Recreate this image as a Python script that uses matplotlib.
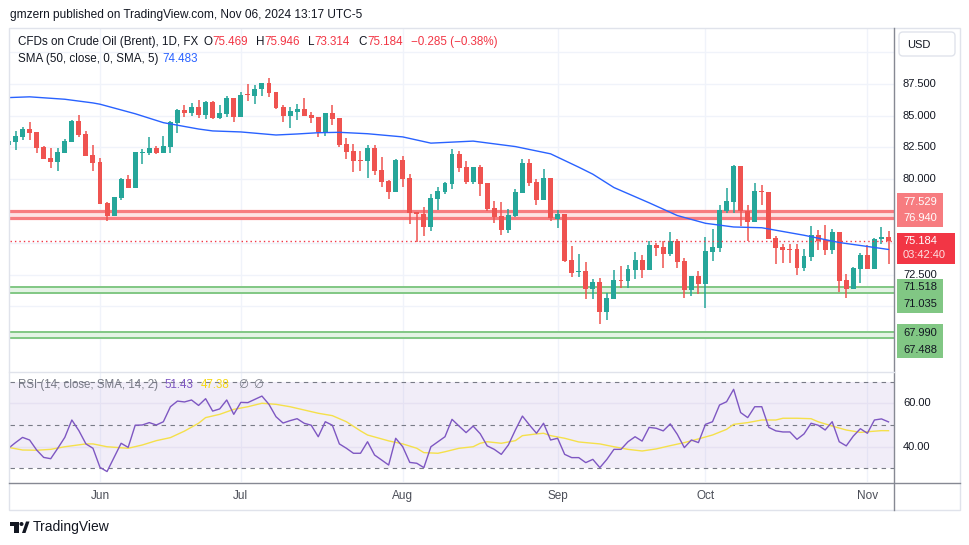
import numpy as np
import pandas as pd
import matplotlib
matplotlib.use("Agg")
import matplotlib.pyplot as plt
from matplotlib.patches import Rectangle, FancyBboxPatch, Polygon, Circle

plt.rcParams['font.family'] = ['Liberation Sans', 'DejaVu Sans']

# ---------------- data ----------------
dates = pd.bdate_range("2024-05-15", "2024-11-06")

opens = [82.70, 82.93, 83.35, 83.98, 83.72, 82.57, 81.67, 81.39, 82.09, 82.96,
         84.61, 83.56, 81.91, 81.36, 78.14, 77.14, 78.56, 80.02, 79.34, 82.10,
         82.04, 82.46, 82.07, 82.54, 84.45, 85.45, 85.24, 85.68, 85.06, 86.08,
         84.85, 85.16, 86.39, 84.92, 86.63, 86.55, 87.07, 87.57, 86.86, 85.68,
         84.98, 85.32, 85.53, 85.06, 84.90, 83.74, 85.21, 84.82, 82.77, 82.22,
         81.50, 81.47, 82.49, 80.73, 79.87, 79.03, 81.52, 80.10, 77.43, 77.27,
         76.28, 78.48, 79.03, 79.66, 81.99, 80.97, 79.79, 80.97, 79.71, 77.74,
         77.12, 76.01, 77.12, 78.92, 81.28, 79.79, 78.37, 80.13, 76.90, 77.27,
         73.68, 72.74, 72.79, 71.40, 71.90, 69.60, 70.62, 72.06, 72.00, 72.87,
         73.66, 72.87, 74.84, 74.68, 74.13, 75.12, 73.58, 71.30, 72.42, 71.80,
         74.31, 74.63, 77.51, 78.24, 81.05, 77.51, 76.67, 79.08, 79.00, 75.38,
         74.68, 74.49, 74.52, 73.05, 73.92, 75.62, 75.23, 74.44, 75.86, 72.08,
         71.40, 72.97, 74.05, 72.97, 75.28, 75.469]
highs = [83.10, 83.80, 84.09, 84.50, 83.72, 82.62, 82.43, 82.46, 83.17, 84.69,
         85.06, 83.80, 82.70, 81.70, 78.24, 78.61, 80.08, 80.34, 82.15, 82.38,
         83.33, 82.65, 83.40, 84.58, 85.55, 85.82, 85.99, 86.23, 86.16, 86.16,
         85.84, 86.55, 86.39, 86.84, 87.49, 87.41, 87.57, 87.96, 86.86, 85.84,
         85.68, 85.92, 86.39, 85.29, 84.90, 85.21, 85.84, 84.82, 83.25, 82.77,
         82.25, 82.70, 82.70, 81.73, 79.97, 81.60, 81.83, 80.42, 77.43, 77.85,
         78.84, 79.37, 79.81, 82.38, 82.20, 81.44, 80.97, 81.10, 79.71, 78.29,
         78.22, 77.67, 79.26, 81.60, 81.60, 80.05, 80.81, 80.13, 77.59, 77.27,
         74.78, 74.13, 73.50, 72.14, 72.24, 71.06, 72.87, 73.16, 73.30, 74.29,
         74.05, 75.13, 74.97, 75.13, 75.86, 75.33, 73.84, 72.42, 72.79, 75.46,
         76.09, 77.98, 79.32, 81.12, 81.05, 77.98, 79.71, 79.55, 79.00, 75.54,
         74.91, 74.91, 74.91, 74.52, 76.33, 76.01, 76.43, 76.09, 75.86, 72.55,
         73.13, 74.23, 74.83, 75.36, 76.25, 75.946]
lows = [82.60, 82.30, 83.12, 83.12, 82.10, 81.60, 80.90, 80.68, 82.09, 82.96,
        83.33, 81.86, 80.68, 78.08, 76.75, 77.14, 78.37, 79.34, 79.34, 81.20,
        81.94, 81.96, 82.07, 82.09, 83.67, 84.92, 85.00, 84.85, 84.77, 84.77,
        84.71, 84.92, 84.53, 84.92, 86.16, 85.92, 86.55, 86.47, 85.55, 84.53,
        84.06, 84.66, 85.00, 84.43, 83.35, 83.43, 84.30, 82.57, 81.60, 80.55,
        80.63, 80.13, 80.34, 79.39, 78.43, 79.03, 79.37, 76.46, 75.04, 75.54,
        75.96, 77.61, 78.82, 79.24, 80.60, 79.66, 79.60, 78.66, 77.48, 76.59,
        75.62, 75.80, 77.04, 78.92, 79.47, 77.95, 78.37, 76.75, 76.20, 73.50,
        72.35, 72.35, 70.59, 70.60, 68.65, 68.94, 70.62, 71.48, 71.48, 72.19,
        72.24, 72.87, 73.97, 73.05, 73.97, 73.05, 70.70, 70.85, 71.01, 69.91,
        73.58, 74.31, 77.38, 77.38, 76.30, 75.18, 76.67, 77.98, 75.33, 73.37,
        73.45, 73.45, 72.50, 72.82, 73.58, 74.44, 74.05, 74.13, 71.17, 70.69,
        71.40, 71.87, 72.97, 72.97, 74.94, 73.314]
closes = [83.00, 83.40, 83.98, 83.67, 82.49, 81.62, 81.39, 82.15, 83.01, 84.58,
          83.51, 81.86, 81.31, 78.08, 77.14, 78.61, 80.02, 79.34, 82.15, 82.15,
          82.46, 82.09, 82.62, 84.50, 85.45, 85.24, 85.68, 85.06, 86.08, 84.85,
          85.21, 86.39, 84.92, 86.63, 86.60, 87.10, 87.57, 86.81, 85.63, 84.98,
          85.37, 85.53, 85.00, 84.85, 83.74, 85.21, 84.77, 82.72, 82.17, 81.46,
          81.46, 82.49, 80.68, 79.81, 79.03, 81.52, 80.05, 77.38, 77.25, 76.28,
          78.53, 79.11, 79.71, 81.99, 80.92, 79.79, 80.97, 79.66, 77.67, 77.06,
          76.01, 77.19, 79.00, 81.28, 79.74, 78.37, 80.13, 76.93, 77.27, 73.58,
          72.66, 72.79, 71.38, 71.90, 69.60, 70.67, 72.06, 72.00, 72.95, 73.66,
          72.87, 74.84, 74.63, 74.13, 75.12, 73.50, 71.30, 72.42, 71.80, 74.36,
          74.68, 77.59, 78.29, 81.05, 77.51, 76.67, 79.08, 79.03, 75.33, 74.63,
          74.47, 74.44, 73.05, 73.97, 75.62, 75.15, 74.44, 75.86, 72.03, 71.40,
          73.03, 74.05, 72.97, 75.28, 75.46, 75.184]

rsi = [39.3, 41.9, 44.3, 43.1, 38.5, 35.1, 34.5, 39.3, 44.3, 52.3,
       47.4, 41.3, 39.3, 30.5, 28.6, 35.1, 41.6, 39.7, 49.9, 50.0,
       51.1, 50.0, 51.5, 58.4, 61.0, 60.6, 61.5, 59.0, 62.1, 56.4,
       57.4, 61.5, 54.9, 60.4, 60.3, 61.8, 63.3, 59.5, 53.8, 50.9,
       52.0, 52.9, 50.8, 49.9, 44.6, 51.5, 49.9, 41.3, 39.3, 37.0,
       37.0, 42.3, 36.2, 33.9, 31.6, 43.9, 40.0, 32.8, 32.4, 30.4,
       40.0, 42.3, 44.6, 52.6, 49.5, 46.5, 49.5, 46.0, 40.4, 38.8,
       36.5, 40.8, 47.7, 54.1, 50.0, 46.2, 50.8, 43.1, 43.9, 36.5,
       35.0, 35.0, 32.7, 34.2, 30.4, 34.2, 38.8, 38.8, 42.3, 44.6,
       42.6, 48.9, 48.5, 47.3, 50.5, 45.7, 39.6, 43.1, 41.9, 50.3,
       51.5, 59.2, 60.7, 66.4, 55.7, 53.4, 58.4, 58.4, 48.9, 47.3,
       46.8, 46.8, 43.4, 45.9, 50.8, 49.9, 47.7, 51.5, 42.3, 40.4,
       44.9, 48.3, 46.2, 52.3, 52.8, 51.43]

sma_dates = ["2024-05-15", "2024-05-20", "2024-05-27", "2024-05-31", "2024-06-03",
             "2024-06-10", "2024-06-14", "2024-06-21", "2024-06-25", "2024-07-01",
             "2024-07-08", "2024-07-11", "2024-07-16", "2024-07-19", "2024-07-25",
             "2024-08-01", "2024-08-07", "2024-08-15", "2024-08-23", "2024-08-30",
             "2024-09-05", "2024-09-09", "2024-09-12", "2024-09-19", "2024-09-25",
             "2024-10-01", "2024-10-07", "2024-10-11", "2024-10-21", "2024-10-28",
             "2024-11-06"]
sma_vals = [86.42, 86.48, 86.29, 86.00, 85.90,
            85.15, 84.45, 83.95, 83.80, 83.72,
            83.48, 83.56, 83.66, 83.69, 83.58,
            83.33, 82.84, 83.00, 82.57, 82.00,
            80.95, 80.40, 79.35, 78.15, 77.15,
            76.54, 76.25, 76.19, 75.60, 75.03,
            74.483]

rsi_ma_dates = ["2024-05-15", "2024-05-17", "2024-05-21", "2024-05-23", "2024-05-27",
                "2024-05-30", "2024-05-31", "2024-06-04", "2024-06-07", "2024-06-11",
                "2024-06-13", "2024-06-17", "2024-06-19", "2024-06-21", "2024-06-24",
                "2024-06-26", "2024-06-28", "2024-07-02", "2024-07-04", "2024-07-08",
                "2024-07-10", "2024-07-12", "2024-07-16", "2024-07-18", "2024-07-22",
                "2024-07-24", "2024-07-25", "2024-07-30", "2024-08-01", "2024-08-05",
                "2024-08-06", "2024-08-08", "2024-08-09", "2024-08-13", "2024-08-15",
                "2024-08-16", "2024-08-19", "2024-08-21", "2024-08-23", "2024-08-26",
                "2024-08-28", "2024-08-29", "2024-08-30", "2024-09-03", "2024-09-05",
                "2024-09-10", "2024-09-12", "2024-09-16", "2024-09-18", "2024-09-20",
                "2024-09-24", "2024-09-26", "2024-09-30", "2024-10-02", "2024-10-04",
                "2024-10-07", "2024-10-09", "2024-10-11", "2024-10-15", "2024-10-16",
                "2024-10-18", "2024-10-22", "2024-10-23", "2024-10-25", "2024-10-29",
                "2024-10-31", "2024-11-01", "2024-11-05", "2024-11-06"]
rsi_ma_vals = [39.7, 38.5, 38.4, 38.8, 40.0,
               41.3, 41.3, 40.0, 39.3, 40.8,
               42.8, 44.2, 47.2, 50.8, 53.4,
               54.9, 57.2, 58.4, 60.0, 59.5,
               58.4, 56.9, 55.4, 54.3, 51.5,
               47.3, 45.4, 42.7, 41.3, 39.3,
               37.3, 37.0, 37.7, 39.3, 40.0,
               41.6, 42.3, 41.6, 42.8, 45.1,
               45.9, 46.2, 45.1, 43.9, 42.2,
               41.3, 40.0, 38.8, 38.05, 39.0,
               40.5, 41.9, 43.6, 45.4, 48.0,
               50.3, 51.1, 52.3, 52.3, 53.1,
               53.1, 52.9, 51.5, 49.5, 47.7,
               46.6, 46.9, 47.4, 47.38]

red_zone = (76.940, 77.529)
green_zone_1 = (71.035, 71.518)
green_zone_2 = (67.488, 67.990)
last_price = 75.184
change_text = "\u22120.285 (\u22120.38%)"
price_ticks = [87.5, 85.0, 82.5, 80.0, 72.5]
grid_levels = [67.5, 70.0, 72.5, 75.0, 77.5, 80.0, 82.5, 85.0, 87.5, 90.0]
rsi_ticks = [60, 40]
month_labels = ["Jun", "Jul", "Aug", "Sep", "Oct", "Nov"]
month_numbers = [6, 7, 8, 9, 10, 11]

# ---------------- figure ----------------
W, H = 970, 545
fig = plt.figure(figsize=(9.7, 5.45), dpi=100)
fig.patch.set_facecolor("white")

def rect(x0, y0, x1, y1):
    return [x0 / W, 1 - y1 / H, (x1 - x0) / W, (y1 - y0) / H]

UP, DOWN = "#26a69a", "#ef5350"
GRID = "#f0f3fa"
TXT = "#131722"
AXC = "#868993"

x = np.arange(len(dates))
pos = {d.strftime("%Y-%m-%d"): i for i, d in enumerate(dates)}
month_pos = [int(np.where(dates.month == m)[0][0]) for m in month_numbers]
XL = (0.216, 125.78)

# main price pane
ax = fig.add_axes(rect(10, 28, 894, 371))
ax.set_xlim(*XL)
ax.set_ylim(64.93, 91.89)
ax.axis("off")
for g in grid_levels:
    ax.axhline(g, color=GRID, lw=1, zorder=0)
for mp in month_pos:
    ax.axvline(mp, color=GRID, lw=1, zorder=0)

for lo, hi, fc, ec, lw in [(red_zone[0], red_zone[1], "#fde3e4", "#f77c80", 2.3),
                           (green_zone_1[0], green_zone_1[1], "#e3f3e4", "#81c784", 1.4),
                           (green_zone_2[0], green_zone_2[1], "#e3f3e4", "#81c784", 1.4)]:
    ax.axhspan(lo, hi, color=fc, lw=0, zorder=1)
    ax.axhline(lo, color=ec, lw=lw, zorder=2)
    ax.axhline(hi, color=ec, lw=lw, zorder=2)

o = np.array(opens); c = np.array(closes); h = np.array(highs); l = np.array(lows)
cols = np.where(c >= o, UP, DOWN)
ax.vlines(x, l, h, colors=cols, lw=1.1, zorder=3)
body_bottom = np.minimum(o, c)
body_h = np.maximum(np.abs(c - o), 0.07)
ax.bar(x, body_h, bottom=body_bottom, width=0.7, color=cols, lw=0, zorder=4)

ax.axhline(last_price, color="#f23645", lw=1.0, ls=(0, (1, 2.2)), zorder=5)

sx = [pos[d] for d in sma_dates]
ax.plot(sx, sma_vals, color="#2962ff", lw=1.0, zorder=6, solid_capstyle="round")

ytr = ax.get_yaxis_transform()
for p in price_ticks:
    ax.text(1 + 9 / 884, p, f"{p:.3f}", transform=ytr, fontsize=8, color=TXT,
            ha="left", va="center", clip_on=False)

# RSI pane
ar = fig.add_axes(rect(10, 371, 894, 482))
ar.set_xlim(*XL)
ar.set_ylim(23.79, 74.83)
ar.axis("off")
for mp in month_pos:
    ar.axvline(mp, color=GRID, lw=1, zorder=0)
ar.axhspan(30, 70, color="#7e57c2", alpha=0.1, lw=0, zorder=1)
for g in rsi_ticks:
    ar.axhline(g, color="#e6e1f2", lw=1, zorder=1)
for g in [70, 50, 30]:
    ar.axhline(g, color="#787b86", lw=0.8, ls=(0, (4, 4)), zorder=2)
ar.plot(x, rsi, color="#7e57c2", lw=1.0, zorder=4)
rx = [pos[d] for d in rsi_ma_dates]
ar.plot(rx, rsi_ma_vals, color="#f5e04a", lw=1.0, zorder=3)
rtr = ar.get_yaxis_transform()
for g in rsi_ticks:
    ar.text(1 + 9 / 884, g, f"{g:.2f}", transform=rtr, fontsize=8, color=TXT,
            ha="left", va="center", clip_on=False)

# month axis
axx = fig.add_axes(rect(10, 482, 894, 510))
axx.set_xlim(*XL)
axx.set_ylim(0, 1)
axx.axis("off")
for mp, lab in zip(month_pos, month_labels):
    axx.text(mp, 0.5, lab, fontsize=8.5, color="#4a4d57", ha="center", va="center")

# pixel overlay
ov = fig.add_axes([0, 0, 1, 1])
ov.set_xlim(0, W)
ov.set_ylim(H, 0)
ov.axis("off")
ov.patch.set_alpha(0)

def py(p):
    return H - ax.transData.transform((0, p))[1]

def chain(x0, y0, parts, fs):
    """Write coloured text pieces one after another on a line."""
    prev = ov.text(x0, y0, parts[0][0], fontsize=fs, color=parts[0][1], va="center", ha="left")
    for t, col, gap in parts[1:]:
        prev = ov.annotate(t, xy=(1, 0.5), xycoords=prev, xytext=(gap, 0),
                           textcoords="offset points", fontsize=fs, color=col,
                           va="center", ha="left")
    return prev

# frame
ov.add_patch(Rectangle((9.5, 27.5), 951, 482, fill=False, ec="#e0e3eb", lw=1))
ov.plot([894.5, 894.5], [27.5, 509.5], color=AXC, lw=1)
ov.plot([9.5, 960.5], [482.5, 482.5], color=AXC, lw=1)
ov.plot([9.5, 894.5], [371.5, 371.5], color="#e0e3eb", lw=1)

# USD box
ov.add_patch(FancyBboxPatch((899, 32), 56, 24, boxstyle="round,pad=0,rounding_size=4",
                            fc="white", ec="#e0e3eb", lw=1))
ov.text(907, 44.5, "USD", fontsize=8, color=TXT, va="center", ha="left")

# price labels boxes
def box2(y1, y2, xr, fc, t1, t2, tc, c2=None):
    ov.add_patch(Rectangle((897, y1 - 8.5), xr - 897, (y2 - y1) + 17, fc=fc, ec="none"))
    ov.text(903, y1, t1, fontsize=8, color=tc, va="center", ha="left")
    ov.text(903, y2, t2, fontsize=8, color=c2 or tc, va="center", ha="left")

yr1 = py(red_zone[1]) - 9
box2(yr1, yr1 + 16.5, 943, "#f77c80", f"{red_zone[1]:.3f}", f"{red_zone[0]:.3f}", "white")
yl = py(last_price) + 0.5
box2(yl, yl + 14, 955, "#f23645", f"{last_price:.3f}", "03:42:40", "white", "#fde0e2")
yg1 = py(green_zone_1[1])
box2(yg1, yg1 + 17, 943, "#81c784", f"{green_zone_1[1]:.3f}", f"{green_zone_1[0]:.3f}", TXT)
yg2 = py(green_zone_2[1]) + 0.5
box2(yg2, yg2 + 17, 943, "#81c784", f"{green_zone_2[1]:.3f}", f"{green_zone_2[0]:.3f}", TXT)

# header texts
ov.text(10, 15, "gmzern published on TradingView.com, Nov 06, 2024 13:17 UTC-5",
        fontsize=8.6, color=TXT, va="center", ha="left")
RED = "#f23645"
chain(18, 42, [("CFDs on Crude Oil (Brent), 1D, FX", TXT),
               ("O", TXT, 3.5), (f"{opens[-1]:.3f}", RED, 0),
               ("H", TXT, 6), (f"{highs[-1]:.3f}", RED, 0),
               ("L", TXT, 6), (f"{lows[-1]:.3f}", RED, 0),
               ("C", TXT, 6), (f"{closes[-1]:.3f}", RED, 0),
               (change_text, RED, 6)], 8.4)
chain(18, 59, [("SMA (50, close, 0, SMA, 5)", TXT),
               (f"{sma_vals[-1]:.3f}", "#2962ff", 3)], 8.4)
chain(18, 385, [("RSI (14, close, SMA, 14, 2)", "#787b86"),
                (f"{rsi[-1]:.2f}", "#7e57c2", 5),
                (f"{rsi_ma_vals[-1]:.2f}", "#f5d815", 5),
                ("\u2205", "#787b86", 6), ("\u2205", "#787b86", 4)], 8.3)

# TradingView logo
ov.add_patch(Polygon([(10, 521.5), (19, 521.5), (19, 533), (14.5, 533), (14.5, 525.5), (10, 525.5)],
                     closed=True, fc=TXT, ec="none"))
ov.add_patch(Circle((21.5, 524), 2.0, fc=TXT, ec="none"))
ov.add_patch(Polygon([(22, 533), (26, 521.5), (29.5, 521.5), (25.5, 533)], closed=True, fc=TXT, ec="none"))
ov.text(33, 527.5, "TradingView", fontsize=10, color=TXT, va="center", ha="left")

fig.savefig("out.png", dpi=100, facecolor="white")
